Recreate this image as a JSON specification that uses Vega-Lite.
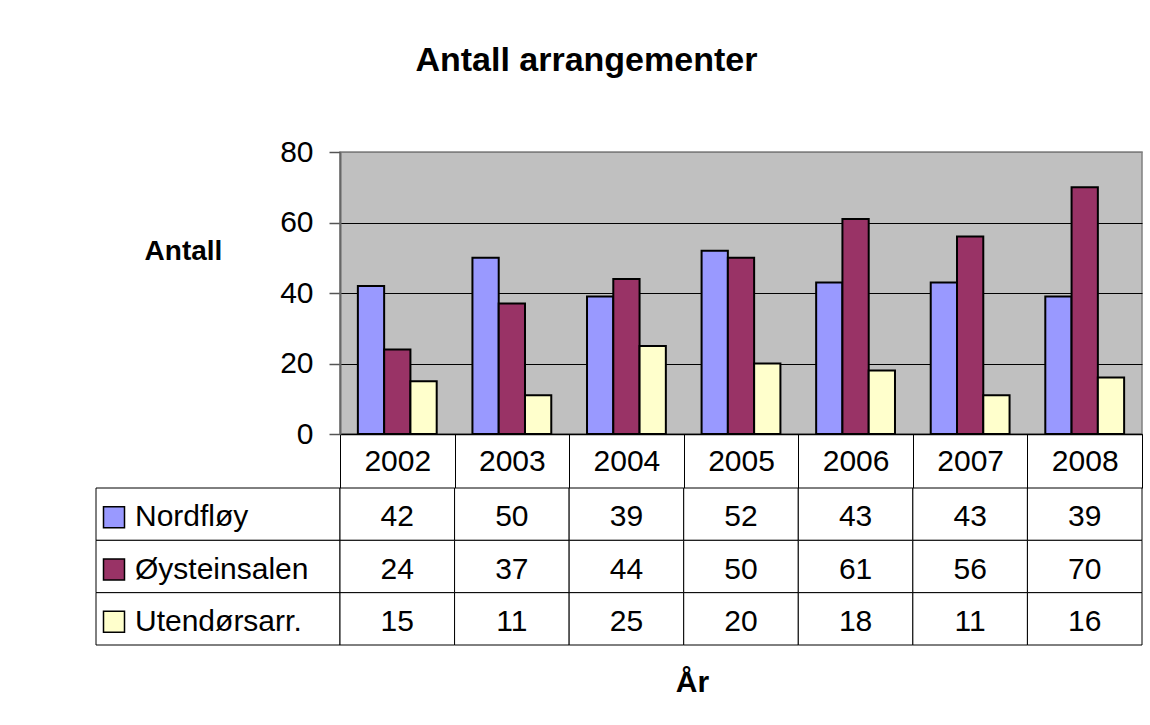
{
  "$schema": "https://vega.github.io/schema/vega-lite/v6.json",
  "padding": {"left": 95, "top": 44, "right": 5, "bottom": 5},
  "background": "white",
  "config": {
    "view": {"stroke": null},
    "font": "Liberation Sans",
    "axis": {"labelFont": "Liberation Sans", "titleFont": "Liberation Sans", "labelColor": "black", "titleColor": "black"},
    "text": {"font": "Liberation Sans"}
  },
  "title": {"text": "Antall arrangementer", "fontSize": 34, "fontWeight": "bold", "font": "Liberation Sans", "color": "black", "anchor": "middle", "offset": 58, "dx": -33},
  "datasets": {
    "counts": [
      {"year": "2002", "series": "Nordfløy", "value": 42},
      {"year": "2003", "series": "Nordfløy", "value": 50},
      {"year": "2004", "series": "Nordfløy", "value": 39},
      {"year": "2005", "series": "Nordfløy", "value": 52},
      {"year": "2006", "series": "Nordfløy", "value": 43},
      {"year": "2007", "series": "Nordfløy", "value": 43},
      {"year": "2008", "series": "Nordfløy", "value": 39},
      {"year": "2002", "series": "Øysteinsalen", "value": 24},
      {"year": "2003", "series": "Øysteinsalen", "value": 37},
      {"year": "2004", "series": "Øysteinsalen", "value": 44},
      {"year": "2005", "series": "Øysteinsalen", "value": 50},
      {"year": "2006", "series": "Øysteinsalen", "value": 61},
      {"year": "2007", "series": "Øysteinsalen", "value": 56},
      {"year": "2008", "series": "Øysteinsalen", "value": 70},
      {"year": "2002", "series": "Utendørsarr.", "value": 15},
      {"year": "2003", "series": "Utendørsarr.", "value": 11},
      {"year": "2004", "series": "Utendørsarr.", "value": 25},
      {"year": "2005", "series": "Utendørsarr.", "value": 20},
      {"year": "2006", "series": "Utendørsarr.", "value": 18},
      {"year": "2007", "series": "Utendørsarr.", "value": 11},
      {"year": "2008", "series": "Utendørsarr.", "value": 16}
    ],
    "series": [
      {"series": "Nordfløy"},
      {"series": "Øysteinsalen"},
      {"series": "Utendørsarr."}
    ]
  },
  "columns": 2,
  "spacing": {"row": 54, "column": 0},
  "bounds": "flush",
  "resolve": {"scale": {"x": "independent", "y": "independent"}},
  "concat": [
    {
      "width": 244,
      "height": 282,
      "data": {"values": [{"t": ""}]},
      "mark": {"type": "text"},
      "encoding": {"text": {"field": "t"}}
    },
    {
      "width": 802,
      "height": 282,
      "data": {"name": "counts"},
      "view": {"fill": "#c0c0c0", "stroke": "#808080", "strokeWidth": 1.5},
      "mark": {"type": "bar", "stroke": "black", "strokeWidth": 2},
      "encoding": {
        "x": {
          "field": "year", "type": "nominal",
          "scale": {"paddingInner": 0, "paddingOuter": 0},
          "axis": {
            "title": null, "labelAngle": 0, "labelFontSize": 30, "labelPadding": -42,
            "tickBand": "extent", "tickSize": 54, "tickColor": "black", "tickWidth": 1,
            "domainColor": "black", "domainWidth": 1.5
          }
        },
        "xOffset": {
          "field": "series", "type": "nominal",
          "sort": ["Nordfløy", "Øysteinsalen", "Utendørsarr."],
          "scale": {"paddingInner": 0, "paddingOuter": 0.68}
        },
        "y": {
          "field": "value", "type": "quantitative",
          "scale": {"domain": [0, 80], "nice": false},
          "axis": {
            "title": "Antall", "titleAngle": 0, "titleFontSize": 28, "titleFontWeight": "bold",
            "titleX": -157, "titleY": 99, "titleAlign": "center", "titleBaseline": "middle",
            "values": [0, 20, 40, 60, 80], "labelFontSize": 30, "labelPadding": 16,
            "tickSize": 11, "tickColor": "#555555", "tickWidth": 1.5,
            "domainColor": "#666666", "domainWidth": 2,
            "grid": true, "gridWidth": 1,
            "gridColor": {"condition": {"test": "datum.value == 80", "value": "#808080"}, "value": "black"}
          }
        },
        "color": {
          "field": "series", "type": "nominal",
          "scale": {"domain": ["Nordfløy", "Øysteinsalen", "Utendørsarr."], "range": ["#9999ff", "#993366", "#ffffcc"]},
          "legend": null
        }
      }
    },
    {
      "width": 244,
      "height": 157,
      "data": {"name": "series"},
      "encoding": {
        "y": {
          "field": "series", "type": "nominal",
          "sort": ["Nordfløy", "Øysteinsalen", "Utendørsarr."],
          "scale": {"paddingInner": 0, "paddingOuter": 0},
          "axis": null
        }
      },
      "layer": [
        {"mark": {"type": "rect", "fill": "white", "stroke": "black", "strokeWidth": 1}},
        {
          "mark": {"type": "point", "shape": "square", "size": 441, "filled": true, "stroke": "black", "strokeWidth": 1.5, "opacity": 1, "xOffset": -104, "yOffset": 3},
          "encoding": {
            "color": {
              "field": "series", "type": "nominal",
              "scale": {"domain": ["Nordfløy", "Øysteinsalen", "Utendørsarr."], "range": ["#9999ff", "#993366", "#ffffcc"]},
              "legend": null
            }
          }
        },
        {
          "mark": {"type": "text", "align": "left", "baseline": "middle", "dx": -83, "dy": 3, "fontSize": 30, "color": "black"},
          "encoding": {"text": {"field": "series"}}
        }
      ]
    },
    {
      "width": 802,
      "height": 157,
      "data": {"name": "counts"},
      "encoding": {
        "x": {
          "field": "year", "type": "nominal",
          "scale": {"paddingInner": 0, "paddingOuter": 0},
          "axis": {
            "title": "År", "labels": false, "ticks": false, "domain": false,
            "titleFontSize": 30, "titleFontWeight": "bold",
            "titleX": 352, "titleY": 46, "titleBaseline": "alphabetic", "titleAlign": "center"
          }
        },
        "y": {
          "field": "series", "type": "nominal",
          "sort": ["Nordfløy", "Øysteinsalen", "Utendørsarr."],
          "scale": {"paddingInner": 0, "paddingOuter": 0},
          "axis": null
        }
      },
      "layer": [
        {"mark": {"type": "rect", "fill": "white", "stroke": "black", "strokeWidth": 1}},
        {
          "mark": {"type": "text", "align": "center", "baseline": "middle", "dy": 3, "fontSize": 30, "color": "black"},
          "encoding": {"text": {"field": "value", "type": "quantitative"}}
        }
      ]
    }
  ]
}
